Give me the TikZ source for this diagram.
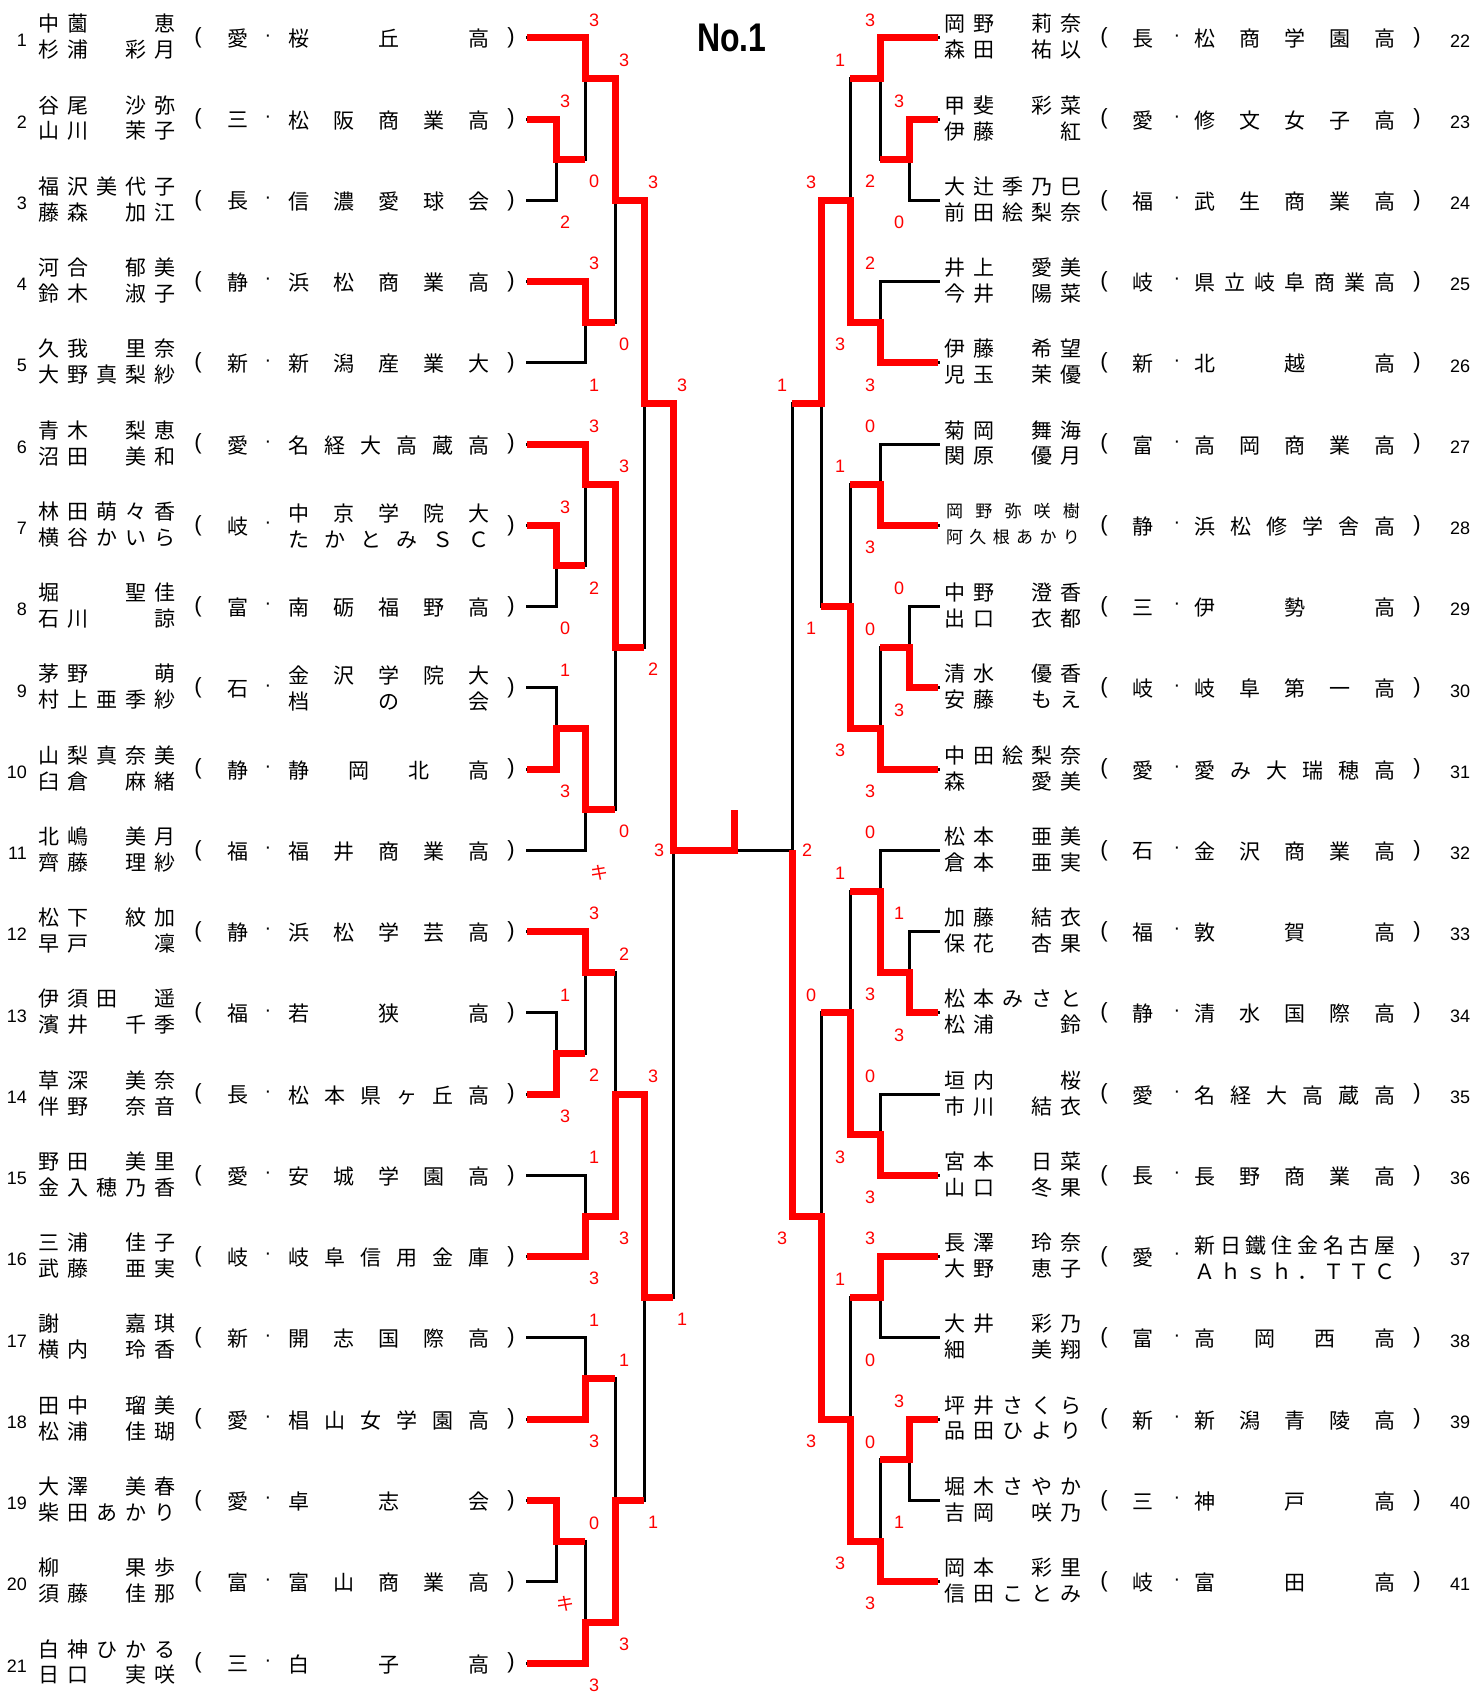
\documentclass[tikz,border=0pt]{standalone}
\usepackage{fontspec}
\usepackage{graphicx}
\setmainfont{Liberation Sans}
\newfontfamily\jp{Noto Sans CJK JP}
\definecolor{winred}{HTML}{FF0000}
\makeatletter
\def\spreadchars#1{\let\spsep\relax\@tfor\spc:=#1\do{\spsep\spc\let\spsep\hfill}}
\makeatother
\newcommand\spread[2]{\makebox[#1][l]{\expandafter\spreadchars\expandafter{#2}}}
\newcommand\namebox[1]{\spread{\dimexpr116.8pt+1em\relax}{#1}}
\newcommand\schoolbox[1]{\spread{\dimexpr180pt+1em\relax}{#1}}
\newcommand\twolines[2]{\vbox{\baselineskip=26pt\hbox{\schoolbox{#1}}\hbox{\schoolbox{#2}}}}
\tikzset{
  blk/.style={line width=3pt,line cap=rect},
  win/.style={line width=7pt,winred,line join=miter},
  txt/.style={inner sep=0pt,font=\jp\fontsize{21}{21}\selectfont},
  num/.style={inner sep=0pt,font=\fontsize{18}{18}\selectfont},
  sc/.style={inner sep=0pt,text=winred,font=\fontsize{18}{18}\selectfont},
  sctop/.style={yshift=18pt},
  scbot/.style={yshift=-22pt},
  paren/.style={inner sep=0pt,font=\fontsize{22}{22}\selectfont},
  mdot/.style={inner sep=0pt,font=\fontsize{20}{20}\selectfont}
}

\begin{document}
\begin{tikzpicture}[x=1pt,y=-81.26pt]
\useasboundingbox (0,0.5348) rectangle (1475,21.3692);
\node[inner sep=0pt,font=\bfseries\fontsize{40}{40}\selectfont] (title) at (732,1) {\scalebox{0.8}[1]{No.1}};
% entry ends
\foreach \rw in {1,...,21}\coordinate (L\rw) at (527,\rw);
\foreach \rw in {1,...,20}\coordinate (R\rw) at (938,\rw);
% left entries
\foreach \rw/\nma/\nmb/\pf/\sch in {
1/中薗　　恵/杉浦　彩月/愛/桜丘高,
2/谷尾　沙弥/山川　茉子/三/松阪商業高,
3/福沢美代子/藤森　加江/長/信濃愛球会,
4/河合　郁美/鈴木　淑子/静/浜松商業高,
5/久我　里奈/大野真梨紗/新/新潟産業大,
6/青木　梨恵/沼田　美和/愛/名経大高蔵高,
7/林田萌々香/横谷かいら/岐/{{\twolines{中京学院大}{たかとみＳＣ}}},
8/堀　　聖佳/石川　　諒/富/南砺福野高,
9/茅野　　萌/村上亜季紗/石/{{\twolines{金沢学院大}{档の会}}},
10/山梨真奈美/臼倉　麻緒/静/静岡北高,
11/北嶋　美月/齊藤　理紗/福/福井商業高,
12/松下　紋加/早戸　　凜/静/浜松学芸高,
13/伊須田　遥/濱井　千季/福/若狭高,
14/草深　美奈/伴野　奈音/長/松本県ヶ丘高,
15/野田　美里/金入穂乃香/愛/安城学園高,
16/三浦　佳子/武藤　亜実/岐/岐阜信用金庫,
17/謝　　嘉琪/横内　玲香/新/開志国際高,
18/田中　瑠美/松浦　佳瑚/愛/椙山女学園高,
19/大澤　美春/柴田あかり/愛/卓志会,
20/柳　　果歩/須藤　佳那/富/富山商業高,
21/白神ひかる/日口　実咲/三/白子高}{
  \node[num,anchor=east,yshift=-3pt] (numL\rw) at (27,\rw) {\rw};
  \node[txt,yshift=14pt] (naL\rw) at (107,\rw) {\namebox{\nma}};
  \node[txt,yshift=-12pt] (nbL\rw) at (107,\rw) {\namebox{\nmb}};
  \node[paren] (opL\rw) at (198,\rw) {(};
  \node[txt,yshift=-1pt] (pfL\rw) at (238,\rw) {\pf};
  \node[mdot] (dtL\rw) at (268,\rw) {·};
  \node[txt,yshift=-1pt] (scL\rw) at (389,\rw) {\schoolbox{\sch}};
  \node[paren] (cpL\rw) at (511,\rw) {)};
}
% right entries
\foreach \rw/\idx/\nma/\nmb/\pf/\sch/\fs in {
1/22/岡野　莉奈/森田　祐以/長/松商学園高/21,
2/23/甲斐　彩菜/伊藤　　紅/愛/修文女子高/21,
3/24/大辻季乃巳/前田絵梨奈/福/武生商業高/21,
4/25/井上　愛美/今井　陽菜/岐/県立岐阜商業高/21,
5/26/伊藤　希望/児玉　茉優/新/北越高/21,
6/27/菊岡　舞海/関原　優月/富/高岡商業高/21,
7/28/岡野弥咲樹/阿久根あかり/静/浜松修学舎高/17,
8/29/中野　澄香/出口　衣都/三/伊勢高/21,
9/30/清水　優香/安藤　もえ/岐/岐阜第一高/21,
10/31/中田絵梨奈/森　　愛美/愛/愛み大瑞穂高/21,
11/32/松本　亜美/倉本　亜実/石/金沢商業高/21,
12/33/加藤　結衣/保花　杏果/福/敦賀高/21,
13/34/松本みさと/松浦　　鈴/静/清水国際高/21,
14/35/垣内　　桜/市川　結衣/愛/名経大高蔵高/21,
15/36/宮本　日菜/山口　冬果/長/長野商業高/21,
16/37/長澤　玲奈/大野　恵子/愛/{{\twolines{新日鐵住金名古屋}{Ａｈｓｈ．ＴＴＣ}}}/21,
17/38/大井　彩乃/細　　美翔/富/高岡西高/21,
18/39/坪井さくら/品田ひより/新/新潟青陵高/21,
19/40/堀木さやか/吉岡　咲乃/三/神戸高/21,
20/41/岡本　彩里/信田ことみ/岐/富田高/21}{
  \node[txt,font=\jp\fontsize{\fs}{\fs}\selectfont,yshift=14pt] (naR\rw) at (1013,\rw) {\namebox{\nma}};
  \node[txt,font=\jp\fontsize{\fs}{\fs}\selectfont,yshift=-12pt] (nbR\rw) at (1013,\rw) {\namebox{\nmb}};
  \node[paren] (opR\rw) at (1104,\rw) {(};
  \node[txt,yshift=-1pt] (pfR\rw) at (1143,\rw) {\pf};
  \node[mdot] (dtR\rw) at (1177,\rw) {·};
  \node[txt,yshift=-1pt] (scR\rw) at (1295,\rw) {\schoolbox{\sch}};
  \node[paren] (cpR\rw) at (1417,\rw) {)};
  \node[num,anchor=west,yshift=-3pt] (numR\rw) at (1450,\rw) {\idx};
}
% bracket lines
\foreach \rw/\x in {1/585,2/556,3/556,4/585,5/585,6/585,7/556,8/556,9/556,10/556,11/585,12/585,13/556,14/556,15/585,16/585,17/585,18/585,19/556,20/556,21/585}
  \draw[blk] (L\rw) -- (\x,\rw);
\foreach \rw/\x in {1/880,2/909,3/909,4/880,5/880,6/880,7/880,8/909,9/909,10/880,11/880,12/909,13/909,14/880,15/880,16/880,17/880,18/909,19/909,20/880}
  \draw[blk] (R\rw) -- (\x,\rw);
\foreach \x/\ya/\yb in {556/2/3,556/7/8,556/9/10,556/13/14,556/19/20,
  585/1/2.5,585/4/5,585/6/7.5,585/9.5/11,585/12/13.5,585/15/16,585/17/18,585/19.5/21,
  615/1.5/4.5,615/6.5/10.5,615/12.5/15.5,615/17.5/20.5,644/3/8.5,644/14/19,673/5.5/16.5,
  909/2/3,909/8/9,909/12/13,909/18/19,
  880/1/2.5,880/4/5,880/6/7,880/8.5/10,880/11/12.5,880/14/15,880/16/17,880/18.5/20,
  850/1.5/4.5,850/6.5/9.5,850/11.5/14.5,850/16.5/19.5,821/3/8,821/13/18,792/5.5/15.5}
  \draw[blk] (\x,\ya) -- (\x,\yb);
\draw[blk] (673,11) -- (792,11);
% winners, left
\draw[win] (L1) -| (585,1.5) -| (615,3) -| (644,5.5) -| (673,11) -| (734,10.5);
\draw[win] (L2) -| (556,2.5) -- (585,2.5);
\draw[win] (L4) -| (585,4.5) -- (615,4.5);
\draw[win] (L6) -| (585,6.5) -| (615,8.5) -- (644,8.5);
\draw[win] (L7) -| (556,7.5) -- (585,7.5);
\draw[win] (L10) -| (556,9.5) -| (585,10.5) -- (615,10.5);
\draw[win] (L12) -| (585,12.5) -- (615,12.5);
\draw[win] (L14) -| (556,13.5) -- (585,13.5);
\draw[win] (L16) -| (585,15.5) -| (615,14) -| (644,16.5) -- (673,16.5);
\draw[win] (L18) -| (585,17.5) -- (615,17.5);
\draw[win] (L19) -| (556,19.5) -- (585,19.5);
\draw[win] (L21) -| (585,20.5) -| (615,19) -- (644,19);
% winners, right
\draw[win] (R1) -| (880,1.5) -- (850,1.5);
\draw[win] (R2) -| (909,2.5) -- (880,2.5);
\draw[win] (R5) -| (880,4.5) -| (850,3) -| (821,5.5) -- (792,5.5);
\draw[win] (R7) -| (880,6.5) -- (850,6.5);
\draw[win] (R9) -| (909,8.5) -- (880,8.5);
\draw[win] (R10) -| (880,9.5) -| (850,8) -- (821,8);
\draw[win] (R13) -| (909,12.5) -| (880,11.5) -- (850,11.5);
\draw[win] (R15) -| (880,14.5) -| (850,13) -- (821,13);
\draw[win] (R16) -| (880,16.5) -- (850,16.5);
\draw[win] (R18) -| (909,18.5) -- (880,18.5);
\draw[win] (R20) -| (880,19.5) -| (850,18) -| (821,15.5) -| (792,11);
% scores
\foreach \x/\rw/\p/\lab [count=\k] in {
  565/2/sctop/3,565/3/scbot/2,594/1/sctop/3,594/2.5/scbot/0,594/4/sctop/3,594/5/scbot/1,624/1.5/sctop/3,624/4.5/scbot/0,
  565/7/sctop/3,565/8/scbot/0,594/6/sctop/3,594/7.5/scbot/2,565/9/sctop/1,565/10/scbot/3,599/11/scbot/{\jp キ},
  624/6.5/sctop/3,624/10.5/scbot/0,653/3/sctop/3,653/8.5/scbot/2,682/5.5/sctop/3,682/16.5/scbot/1,
  565/13/sctop/1,565/14/scbot/3,594/12/sctop/3,594/13.5/scbot/2,594/15/sctop/1,594/16/scbot/3,624/12.5/sctop/2,624/15.5/scbot/3,
  594/17/sctop/1,594/18/scbot/3,565/20/scbot/{\jp キ},594/19.5/sctop/0,594/21/scbot/3,624/17.5/sctop/1,624/20.5/scbot/3,
  653/14/sctop/3,653/19/scbot/1,
  899/2/sctop/3,899/3/scbot/0,870/1/sctop/3,870/2.5/scbot/2,870/4/sctop/2,870/5/scbot/3,840/1.5/sctop/1,840/4.5/scbot/3,
  870/6/sctop/0,870/7/scbot/3,899/8/sctop/0,899/9/scbot/3,870/8.5/sctop/0,870/10/scbot/3,840/6.5/sctop/1,840/9.5/scbot/3,
  811/3/sctop/3,811/8/scbot/1,782/5.5/sctop/1,782/15.5/scbot/3,
  899/12/sctop/1,899/13/scbot/3,870/11/sctop/0,870/12.5/scbot/3,870/14/sctop/0,870/15/scbot/3,840/11.5/sctop/1,840/14.5/scbot/3,
  870/16/sctop/3,870/17/scbot/0,899/18/sctop/3,899/19/scbot/1,870/18.5/sctop/0,870/20/scbot/3,840/16.5/sctop/1,840/19.5/scbot/3,
  811/13/sctop/0,811/18/scbot/3}
  \node[sc,\p] (sc\k) at (\x,\rw) {\lab};
\node[sc] (finL) at (659,11) {3};
\node[sc] (finR) at (807,11) {2};
\end{tikzpicture}
\end{document}
